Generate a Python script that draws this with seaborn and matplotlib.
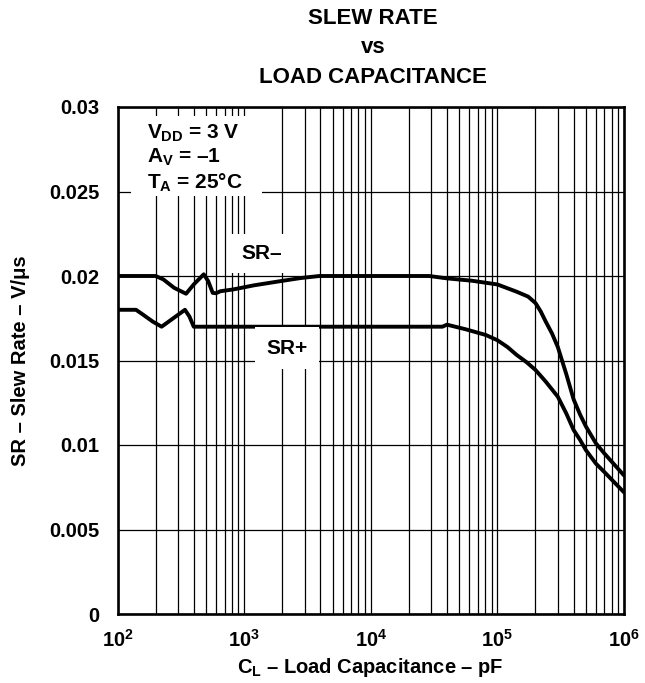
import numpy as np
import pandas as pd
import matplotlib
matplotlib.use("Agg")
import matplotlib.pyplot as plt
from matplotlib.patches import Rectangle
import seaborn as sns

# Slew rate vs load capacitance (VDD = 3 V, AV = -1, TA = 25 C)
sr_minus_cl = [100, 150, 200, 230, 280, 348, 400, 480, 520, 565, 600, 650,
               813, 1200, 1950, 2800, 3930, 10000, 28900, 40000, 63000,
               100000, 142000, 175000, 200000, 220000, 241000, 270000,
               300000, 350000, 400000, 450000, 500000, 600000, 700000,
               1000000]
sr_minus = [0.0200, 0.0200, 0.0200, 0.0198, 0.0193, 0.01895, 0.0195, 0.0201,
            0.0197, 0.0190, 0.01898, 0.0191, 0.0192, 0.01945, 0.0197,
            0.01988, 0.0200, 0.0200, 0.0200, 0.01986, 0.01972, 0.0195,
            0.01907, 0.01878, 0.0184, 0.0179, 0.0173, 0.0166, 0.0158,
            0.0142, 0.0127, 0.0118, 0.0111, 0.0101, 0.0095, 0.0082]

sr_plus_cl = [100, 140, 160, 190, 223, 341, 370, 400, 450, 1000, 10000,
              36800, 40000, 56000, 81000, 100000, 120000, 142000, 170000,
              200000, 241000, 300000, 350000, 400000, 450000, 500000,
              600000, 700000, 1000000]
sr_plus = [0.0180, 0.0180, 0.0177, 0.0173, 0.0170, 0.0180, 0.0176, 0.0170,
           0.0170, 0.0170, 0.0170, 0.0170, 0.01712, 0.01685, 0.01651,
           0.0162, 0.0158, 0.01533, 0.0149, 0.01444, 0.01375, 0.01286,
           0.01187, 0.01089, 0.0103, 0.0097, 0.0089, 0.0084, 0.0072]

y_ticks = [0, 0.005, 0.01, 0.015, 0.02, 0.025, 0.03]
y_tick_labels = ["0", "0.005", "0.01", "0.015", "0.02", "0.025", "0.03"]
x_ticks = [1e2, 1e3, 1e4, 1e5, 1e6]
x_tick_labels = [r"$\mathbf{10^{2}}$", r"$\mathbf{10^{3}}$", r"$\mathbf{10^{4}}$",
                 r"$\mathbf{10^{5}}$", r"$\mathbf{10^{6}}$"]

df = pd.concat([
    pd.DataFrame({"cl": sr_minus_cl, "sr": sr_minus, "curve": "SR-"}),
    pd.DataFrame({"cl": sr_plus_cl, "sr": sr_plus, "curve": "SR+"}),
])

sns.set_theme(style="white")
plt.rcParams["font.family"] = ["Liberation Sans", "DejaVu Sans"]
plt.rcParams["font.weight"] = "bold"
plt.rcParams["mathtext.fontset"] = "custom"
plt.rcParams["mathtext.rm"] = "Liberation Sans:bold"
plt.rcParams["mathtext.it"] = "Liberation Sans:bold"
plt.rcParams["mathtext.bf"] = "Liberation Sans:bold"
for key in ["text.color", "axes.labelcolor", "xtick.color", "ytick.color"]:
    plt.rcParams[key] = "black"

fig = plt.figure(figsize=(6.45, 6.83), dpi=100)
ax = fig.add_axes([117.5 / 645, 69 / 683, 506.5 / 645, 507 / 683])
ax.set_axisbelow(True)

sns.lineplot(data=df, x="cl", y="sr", units="curve", estimator=None,
             color="black", linewidth=2.8, ax=ax, sort=False, zorder=3)
for line in ax.lines:
    line.set_solid_joinstyle("round")
    line.set_solid_capstyle("round")

ax.set_xscale("log")
ax.set_xlim(1e2, 1e6)
ax.set_ylim(0, 0.03)

ax.set_yticks(y_ticks)
ax.set_yticklabels(y_tick_labels)
ax.set_xticks(x_ticks)
ax.set_xticklabels(x_tick_labels)
ax.xaxis.set_minor_locator(matplotlib.ticker.LogLocator(base=10, subs=np.arange(2, 10)))
ax.xaxis.set_minor_formatter(matplotlib.ticker.NullFormatter())

ax.tick_params(axis="both", which="both", length=0, labelsize=14.5)
ax.tick_params(axis="y", pad=13)
ax.tick_params(axis="x", pad=11)
for lab in ax.get_yticklabels() + ax.get_xticklabels():
    lab.set_fontweight("bold")

ax.grid(True, which="major", axis="both", color="black", linewidth=0.9)
ax.grid(True, which="minor", axis="x", color="black", linewidth=0.9)

for sp in ax.spines.values():
    sp.set_color("black")
    sp.set_linewidth(1.9)
    sp.set_zorder(4)

ax.set_xlabel(r"$C_L$ – Load Capacitance – pF", fontsize=14.5, fontweight="bold")
ax.set_ylabel("SR – Slew Rate – V/μs", fontsize=14.5, fontweight="bold")
ax.xaxis.set_label_coords(0.5, -0.083)
ax.yaxis.set_label_coords(-0.172, 0.5)

# conditions box
ax.add_patch(Rectangle((0.0267, 0.8245), 0.2586, 0.1575, transform=ax.transAxes,
                       facecolor="white", edgecolor="none", zorder=2.5))
ax.text(0.0577, 0.970, r"$V_{DD}$ = 3 V" + "\n" + r"$A_V$ = –1" + "\n" + r"$T_A$ = 25°C",
        transform=ax.transAxes, ha="left", va="top", fontsize=15,
        fontweight="bold", linespacing=1.22, zorder=5)

# curve labels
ax.text(0.284, 0.711, "SR–", transform=ax.transAxes, ha="center", va="center",
        fontsize=15, fontweight="bold", zorder=5,
        bbox=dict(boxstyle="square,pad=0.5", facecolor="white", edgecolor="none"))
ax.text(0.335, 0.524, "SR+", transform=ax.transAxes, ha="center", va="center",
        fontsize=15, fontweight="bold", zorder=5,
        bbox=dict(boxstyle="square,pad=0.55", facecolor="white", edgecolor="none"))

# title
cx = 373 / 645
for txt, base in [("SLEW RATE", 24), ("vs", 53), ("LOAD CAPACITANCE", 83)]:
    fig.text(cx, 1 - base / 683, txt, ha="center", va="baseline",
             fontsize=16, fontweight="bold")

fig.savefig("out.png", dpi=100, facecolor="white")
